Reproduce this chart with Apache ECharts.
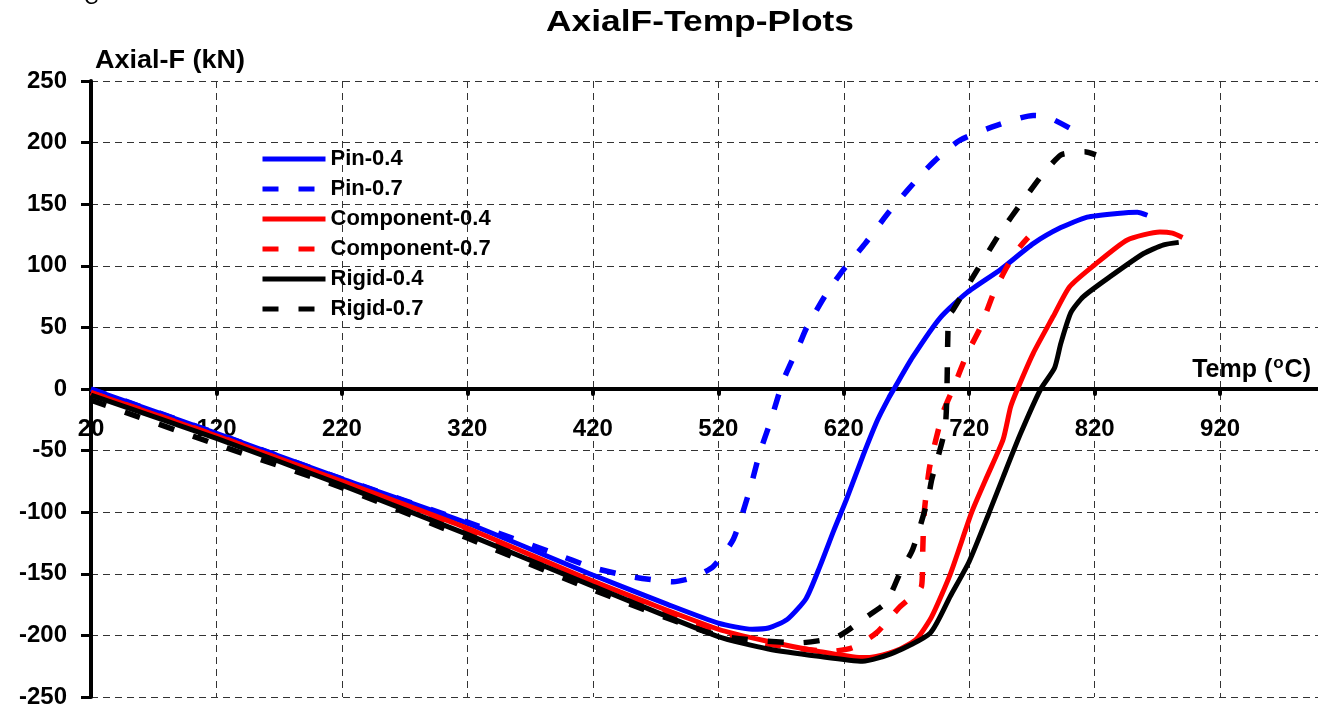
<!DOCTYPE html>
<html><head><meta charset="utf-8">
<script src="https://cdn.jsdelivr.net/npm/echarts@6/dist/echarts.min.js"></script>
<style>html,body{margin:0;padding:0;background:#fff}#c{width:1318px;height:708px}</style>
</head><body><div id="c"></div>
<script>
// ---- data (Temp °C, Axial force kN) ----
const seriesNames = ['Pin-0.4','Pin-0.7','Component-0.4','Component-0.7','Rigid-0.4','Rigid-0.7'];

const pin04T = [20,120,220,320,420,480,520,547,560,575,590,601,612,622,635,647,656,660,675,697,718,745,771,793,814,838,854,862];
const pin04F = [0,-36,-73,-109,-151,-175,-190,-195,-194,-187,-170,-144,-115,-90,-55,-25,-7,0,26,58,78,97,118,131,139.5,142.5,143.5,141];

const pin07T = [20,120,220,320,388,420,452,484,500,516,532,545,553,562,568,573,585,590.5,606.5,619.5,637,655.5,670.5,683.5,695.5,712.7,742,771,782,800.5];
const pin07F = [0,-36,-73,-108,-133,-145,-152.5,-156.5,-153,-144,-122,-82,-52,-25,-5,10,37,50,78,96.5,118,143,161,176,188,202,214,222,221,211.6];

const comp04T = [20,120,220,320,420,520,560,600,634,646,665,678,690,705,722,734,747,753,758.5,771,787,800,819,846,872,882,890];
const comp04F = [-3,-38,-75,-113,-156,-195,-205,-213,-218,-217,-211,-203,-185,-150,-100,-71.5,-41,-14.5,0,29,59,83,100,121,127.5,126.5,123];

const comp07T = [20,120,220,320,420,520,560,609,627,646,664.5,682,683,684,688.5,699,707,718.5,729,739.5,750,758.5,767];
const comp07F = [-3,-38,-76,-114,-157,-198,-207,-213,-210,-198,-177,-160,-130,-102,-63,-19.5,0,29,50,78,99,113,123];

const rigid04T = [20,120,220,320,420,520,560,600,635,660,689,705,720,736,747,761,777,788,793,801,811,832,859,875,887];
const rigid04F = [-5,-40,-78,-118,-160,-201,-211,-217,-221,-214,-198,-168,-140,-100,-71.5,-36,0,17,37,62,75,91,110,117,119];

const rigid07T = [20,120,220,320,420,520,585,615,638,654,665,675,687,690,701,703.5,707,723,744.5,763,779,793,804,812,821];
const rigid07F = [-9,-45,-80,-121,-163,-200,-206,-201,-185,-173,-149,-130,-90,-74,-30,59,64,91,126.5,153,175,190,192,192.5,190];

const xTickLabels = [20,120,220,320,420,520,620,720,820,920];
const yTickLabels = [-250,-200,-150,-100,-50,0,50,100,150,200,250];

// ---- chart ----
const FONT = '"Liberation Sans", Arial, sans-serif';
const pairs = (t, f) => t.map((v, i) => [v, f[i]]);
const colors = ['#0000FF','#0000FF','#FF0000','#FF0000','#000000','#000000'];
const dataSets = [pairs(pin04T,pin04F), pairs(pin07T,pin07F), pairs(comp04T,comp04F),
                  pairs(comp07T,comp07F), pairs(rigid04T,rigid04F), pairs(rigid07T,rigid07F)];

const series = dataSets.map((d, i) => {
  const dashed = i % 2 === 1;
  return {
    name: seriesNames[i], type: 'line', data: d, symbol: 'none', smooth: 0.2,
    color: colors[i],
    itemStyle: { color: colors[i] },
    lineStyle: { color: colors[i], width: dashed ? 5.5 : 5, type: dashed ? [16, 20] : 'solid', cap: 'butt' },
    z: 3
  };
});

const chart = echarts.init(document.getElementById('c'), null, { renderer: 'canvas' });
chart.setOption({
  animation: false,
  backgroundColor: '#fff',
  grid: { left: 91, right: -27.6, top: 81, bottom: 11, containLabel: false, outerBoundsMode: 'none' },
  xAxis: {
    type: 'value', min: 20, max: 1020, interval: 100, position: 'bottom', offset: -308,
    axisLine: { onZero: false, lineStyle: { color: '#000', width: 4 } },
    axisTick: { show: true, inside: false, length: 5, lineStyle: { color: '#000', width: 4, cap: 'round' } },
    axisLabel: { margin: 28, fontSize: 24, fontWeight: 'bold', color: '#000', fontFamily: FONT,
      formatter: v => xTickLabels.includes(v) ? String(v) : '' },
    splitLine: { show: true, lineStyle: { color: '#333', width: 1, type: [7, 5] } }
  },
  yAxis: {
    type: 'value', min: -250, max: 250, interval: 50,
    axisLine: { show: true, onZero: false, lineStyle: { color: '#000', width: 4 } },
    axisTick: { show: true, inside: false, length: 10, lineStyle: { color: '#000', width: 3 } },
    axisLabel: { margin: 24, fontSize: 24, fontWeight: 'bold', color: '#000', fontFamily: FONT,
      formatter: v => yTickLabels.includes(v) ? String(v) : '' },
    splitLine: { show: true, lineStyle: { color: '#333', width: 1, type: [7, 5] } }
  },
  legend: {
    orient: 'vertical', left: 260, top: 148, padding: 0,
    itemWidth: 63, itemHeight: 20, itemGap: 8,
    data: seriesNames,
    itemStyle: { opacity: 0 },
    lineStyle: { width: 5, opacity: 1 },
    textStyle: { fontSize: 22, fontWeight: 'bold', color: '#000', fontFamily: FONT, lineHeight: 20 }
  },
  graphic: [
    { type: 'text', x: 700, y: 23, scaleX: 1.22, originX: 0, originY: 0,
      style: { text: 'AxialF-Temp-Plots', fill: '#000', font: 'bold 29px ' + FONT, align: 'center', verticalAlign: 'middle' } },
    { type: 'text', x: 95, y: 61, scaleX: 1.08, originX: 0, originY: 0,
      style: { text: 'Axial-F (kN)', fill: '#000', font: 'bold 25px ' + FONT, align: 'left', verticalAlign: 'middle' } },
    { type: 'text', x: 1311, y: 386,
      style: { text: '{a|Temp (}{s|o}{a|C)}', align: 'right', verticalAlign: 'bottom',
        rich: { a: { fill: '#000', font: 'bold 25px ' + FONT }, s: { fill: '#000', font: 'bold 17px ' + FONT, verticalAlign: 'top', padding: [0, 1, 14, 1] } } } },
    { type: 'text', x: 84, y: -2,
      style: { text: 'C', fill: '#000', font: '20px ' + FONT, align: 'left', verticalAlign: 'middle' } }
  ],
  series: series
});
</script>
</body></html>
